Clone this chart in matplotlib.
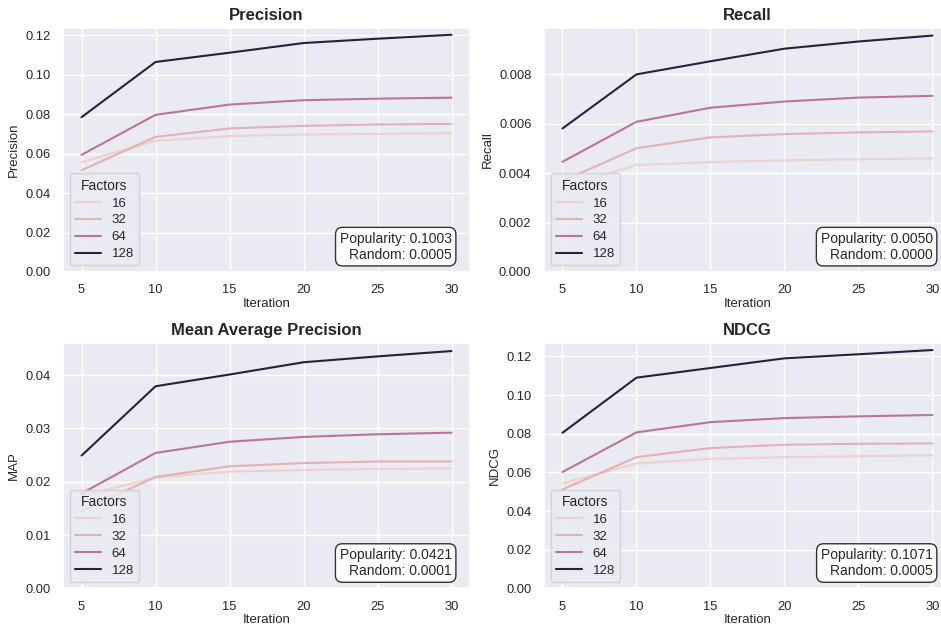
import numpy as np
import matplotlib
matplotlib.use("Agg")
import matplotlib.pyplot as plt
import seaborn as sns

sns.set_theme(style="darkgrid")
plt.rcParams['font.family'] = ['Liberation Sans', 'DejaVu Sans']

iterations = [5, 10, 15, 20, 25, 30]
factors = [16, 32, 64, 128]

# values, one list per factor
precision = {
    16: [0.0557, 0.0665, 0.0689, 0.0697, 0.0700, 0.0704],
    32: [0.0516, 0.0685, 0.0728, 0.0741, 0.0748, 0.0751],
    64: [0.0594, 0.0797, 0.0849, 0.0871, 0.0879, 0.0884],
    128: [0.0785, 0.1065, 0.1112, 0.1161, 0.1183, 0.1203],
}
recall = {
    16: [0.00342, 0.00433, 0.00445, 0.00452, 0.00456, 0.00460],
    32: [0.00368, 0.00501, 0.00545, 0.00558, 0.00565, 0.00569],
    64: [0.00446, 0.00608, 0.00665, 0.00690, 0.00706, 0.00713],
    128: [0.00581, 0.00800, 0.00853, 0.00904, 0.00933, 0.00957],
}
map_ = {
    16: [0.0173, 0.0208, 0.0219, 0.0222, 0.0224, 0.0225],
    32: [0.0145, 0.0209, 0.0229, 0.0235, 0.0238, 0.0238],
    64: [0.0178, 0.0254, 0.0275, 0.0284, 0.0289, 0.0292],
    128: [0.0249, 0.0379, 0.0401, 0.0424, 0.0435, 0.0445],
}
ndcg = {
    16: [0.0543, 0.0646, 0.0670, 0.0679, 0.0684, 0.0688],
    32: [0.0512, 0.0679, 0.0726, 0.0743, 0.0748, 0.0750],
    64: [0.0602, 0.0807, 0.0860, 0.0881, 0.0890, 0.0897],
    128: [0.0805, 0.1090, 0.1140, 0.1190, 0.1211, 0.1233],
}

panels = [
    ("Precision", "Precision", precision, "Popularity: 0.1003\nRandom: 0.0005", "{:.2f}"),
    ("Recall", "Recall", recall, "Popularity: 0.0050\nRandom: 0.0000", "{:.3f}"),
    ("Mean Average Precision", "MAP", map_, "Popularity: 0.0421\nRandom: 0.0001", "{:.2f}"),
    ("NDCG", "NDCG", ndcg, "Popularity: 0.1071\nRandom: 0.0005", "{:.2f}"),
]

cmap = sns.cubehelix_palette(as_cmap=True)
norm = plt.Normalize(min(factors), max(factors))

fig = plt.figure(figsize=(9.41, 6.26), dpi=100)
# the right column runs a little past the figure edge, as in the reference
positions = [
    [0.0670, 0.5655, 0.4325, 0.3898],
    [0.5781, 0.5655, 0.4325, 0.3898],
    [0.0670, 0.0600, 0.4325, 0.3920],
    [0.5781, 0.0600, 0.4325, 0.3920],
]

for pos, (title, ylabel, data, note, fmt) in zip(positions, panels):
    ax = fig.add_axes(pos)
    for f in factors:
        ax.plot(iterations, data[f], color=cmap(norm(f)), lw=1.5, label=str(f))
    ax.set_ylim(bottom=0)
    ax.set_xticks(iterations)
    ax.yaxis.set_major_formatter(matplotlib.ticker.FuncFormatter(lambda v, p, fmt=fmt: fmt.format(v)))
    ax.tick_params(labelsize=9.25, pad=3)
    ax.set_title(title, fontsize=12, fontweight="bold", pad=6)
    ax.set_xlabel("Iteration", fontsize=9.5, labelpad=1)
    ax.set_ylabel(ylabel, fontsize=9.5, labelpad=4)
    ax.legend(title="Factors", loc="lower left", fontsize=9.5,
              title_fontsize=10, labelspacing=0.35)
    ax.text(0.955, 0.042, note, transform=ax.transAxes, ha="right", va="bottom",
            multialignment="right", fontsize=10,
            bbox=dict(boxstyle="round,pad=0.3,rounding_size=0.5", fc="white",
                      ec="#333333", lw=1))

fig.savefig("out.png", dpi=100)
